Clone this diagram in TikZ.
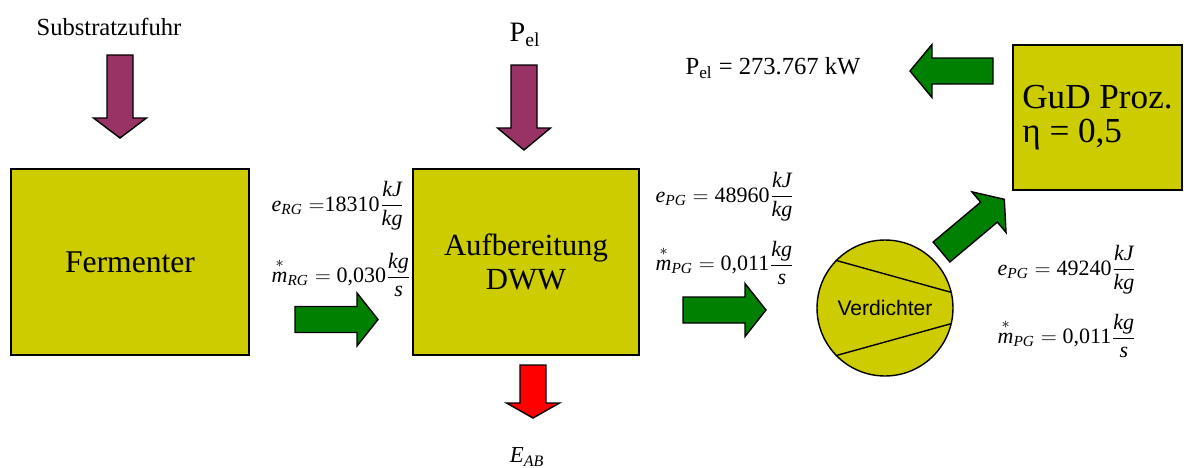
\documentclass[tikz,border=0pt]{standalone}
\usepackage{fontspec}
\usepackage{amsmath}
\setmainfont{Liberation Serif}
\newfontfamily\arialfont{Liberation Sans}
\definecolor{boxgelb}{RGB}{204,204,0}
\definecolor{pfeilgruen}{RGB}{0,128,0}
\definecolor{pfeillila}{RGB}{153,51,102}
\definecolor{pfeilrot}{RGB}{255,0,0}
\tikzset{
  block/.style={draw, line width=1pt, fill=boxgelb, inner sep=0pt},
  formel/.style={anchor=west, inner sep=0pt, font=\fontsize{12.5}{14}\selectfont},
  pfeillaenge/.store in=\pfeillaenge, pfeillaenge=83,
  kopflaenge/.store in=\kopflaenge, kopflaenge=20,
  blockpfeil/.pic={
    \path[pic actions] (0,-13) -- (\pfeillaenge-\kopflaenge,-13) -- (\pfeillaenge-\kopflaenge,-26.5)
      -- (\pfeillaenge,0) -- (\pfeillaenge-\kopflaenge,26.5) -- (\pfeillaenge-\kopflaenge,13) -- (0,13) -- cycle;
  },
}

\begin{document}
\begin{tikzpicture}[x=0.02cm, y=-0.02cm, line width=0.8pt]
  \useasboundingbox (0,0) rectangle (1184,467);

  \node[block, minimum width=4.76cm, minimum height=3.72cm, font=\fontsize{18}{20}\selectfont] (ferm) at (130,262) {Fermenter};
  \node[block, minimum width=4.52cm, minimum height=3.72cm, align=center, font=\fontsize{17.5}{19}\selectfont] (aufb) at (526,262) {Aufbereitung\\DWW};
  \node[block, minimum width=3.38cm, minimum height=2.9cm, align=left, font=\fontsize{20}{19.5}\selectfont] (gud) at (1097.5,117.5) {GuD Proz.\\η = 0,5};
  \node[draw, circle, fill=boxgelb, minimum size=2.72cm, inner sep=0pt, font=\arialfont\fontsize{12}{14}\selectfont] (verd) at (885,308) {Verdichter};
  \draw (verd.136) -- (verd.13);
  \draw (verd.-13) -- (verd.-136);

  \node[font=\fontsize{14}{16}\selectfont] (subst) at (109,27) {Substratzufuhr};
  \node[font=\fontsize{16}{18}\selectfont] (pel) at (525,35) {P\textsubscript{el}};
  \node[font=\fontsize{14}{16}\selectfont] (peltxt) at (773,68) {P\textsubscript{el} = 273.767 kW};
  \node[font=\fontsize{13}{15}\selectfont] (eab) at (527,457) {$\textit{E}_{\textit{AB}}$};

  \node[formel] (eRG) at (271,206) {$\textit{e}_{\textit{RG}}\;{=}\text{18310}\dfrac{\textit{kJ}}{\textit{kg}}$};
  \node[formel] (mRG) at (271,275) {$\overset{*}{\textit{m}}_{\textit{RG}} = \text{0,030}\dfrac{\textit{kg}}{\textit{s}}$};
  \node[formel] (ePG) at (655,197) {$\textit{e}_{\textit{PG}} = \text{48960}\dfrac{\textit{kJ}}{\textit{kg}}$};
  \node[formel] (mPG) at (655,263) {$\overset{*}{\textit{m}}_{\textit{PG}} = \text{0,011}\dfrac{\textit{kg}}{\textit{s}}$};
  \node[formel] (ePGv) at (997,270) {$\textit{e}_{\textit{PG}} = \text{49240}\dfrac{\textit{kJ}}{\textit{kg}}$};
  \node[formel] (mPGv) at (997,336) {$\overset{*}{\textit{m}}_{\textit{PG}} = \text{0,011}\dfrac{\textit{kg}}{\textit{s}}$};

  \pic[draw, fill=pfeillila, rotate=-90] at (120,55) {blockpfeil};
  \pic[draw, fill=pfeillila, rotate=-90, pfeillaenge=85, kopflaenge=22] at (524,65) {blockpfeil};
  \pic[draw, fill=pfeilrot, rotate=-90, pfeillaenge=53, kopflaenge=15] at (533,365) {blockpfeil};
  \pic[draw, fill=pfeilgruen, kopflaenge=21] at (295,319.5) {blockpfeil};
  \pic[draw, fill=pfeilgruen, kopflaenge=21] at (683,310) {blockpfeil};
  \pic[draw, fill=pfeilgruen, rotate=180, kopflaenge=22] at (993,71) {blockpfeil};
  \pic[draw, fill=pfeilgruen, rotate=40, pfeillaenge=82] at (941.5,252) {blockpfeil};
\end{tikzpicture}
\end{document}
